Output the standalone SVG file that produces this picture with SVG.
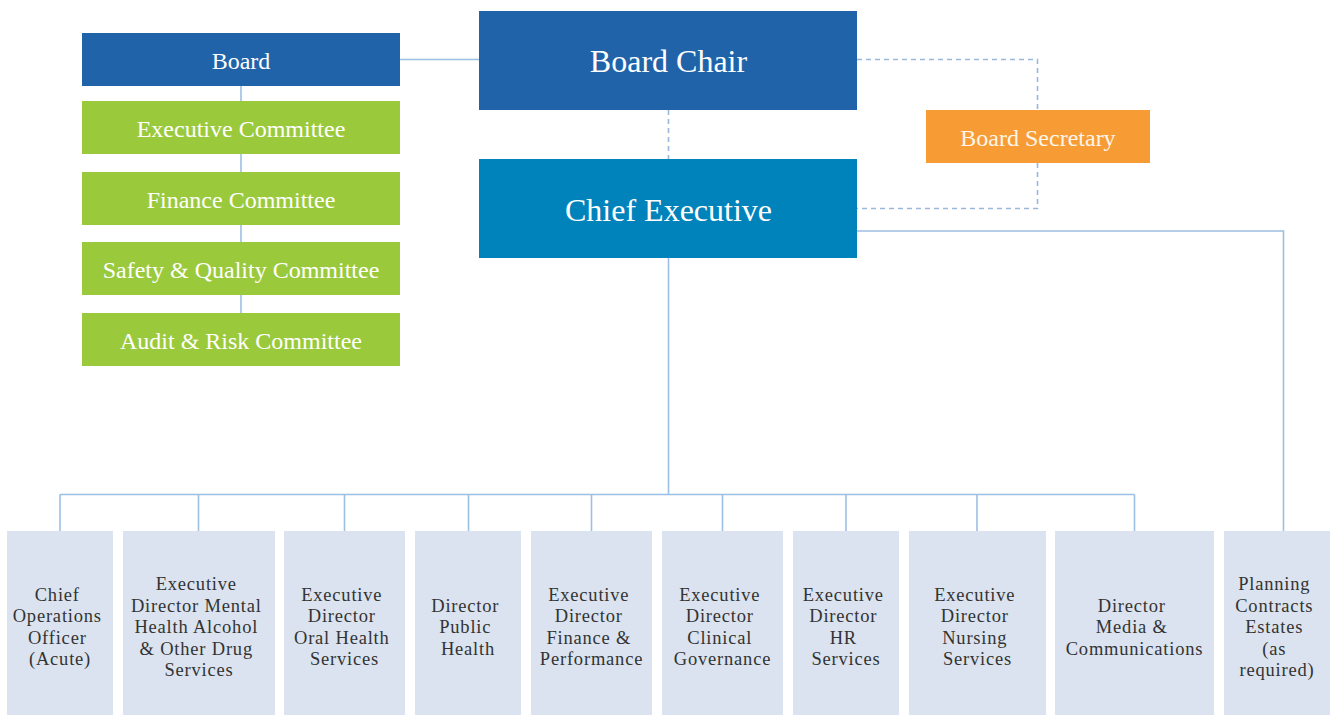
<svg xmlns="http://www.w3.org/2000/svg" width="1335" height="715" viewBox="0 0 1335 715">
  <style>
    .link { fill: none; stroke: #9cbfe4; stroke-width: 1.6; }
    .dash { fill: none; stroke: #9ab8da; stroke-width: 1.6; stroke-dasharray: 5 4; }
    .t { font-family: "Liberation Serif", "Times New Roman", serif; text-anchor: middle; }
    .w { fill: #ffffff; }
    .navy { fill: #2163a9; }
    .teal { fill: #0083bb; }
    .green { fill: #9aca3c; }
    .orange { fill: #f79c34; }
    .pale { fill: #dae3ef; }
    .small { font-size: 24px; }
    .big { font-size: 32px; }
    .dir { font-size: 18.5px; letter-spacing: 0.8px; fill: #333333; }
  </style>

  <!-- connectors -->
  <g id="connectors">
    <line class="link" x1="400" y1="59.5" x2="479" y2="59.5"/>
    <line class="link" x1="241" y1="86" x2="241" y2="313"/>
    <line class="dash" x1="668.5" y1="110" x2="668.5" y2="159"/>
    <polyline class="dash" points="857,59.5 1037.5,59.5 1037.5,110"/>
    <polyline class="dash" points="1037.5,163 1037.5,208.5 857,208.5"/>
    <polyline class="link" points="857,231 1283.5,231 1283.5,531"/>
    <line class="link" x1="668.5" y1="258" x2="668.5" y2="494.5"/>
    <line class="link" x1="60" y1="494.5" x2="1134.5" y2="494.5"/>
    <line class="link" x1="60" y1="494.5" x2="60" y2="531"/>
    <line class="link" x1="198.5" y1="494.5" x2="198.5" y2="531"/>
    <line class="link" x1="344.5" y1="494.5" x2="344.5" y2="531"/>
    <line class="link" x1="468.5" y1="494.5" x2="468.5" y2="531"/>
    <line class="link" x1="591.5" y1="494.5" x2="591.5" y2="531"/>
    <line class="link" x1="722.5" y1="494.5" x2="722.5" y2="531"/>
    <line class="link" x1="846" y1="494.5" x2="846" y2="531"/>
    <line class="link" x1="977" y1="494.5" x2="977" y2="531"/>
    <line class="link" x1="1134.5" y1="494.5" x2="1134.5" y2="531"/>
  </g>

  <!-- board and committees -->
  <g id="board">
    <rect class="navy" x="82" y="33" width="318" height="53"/>
    <text class="t w small" x="241" y="68.5">Board</text>
  </g>
  <g id="executive-committee">
    <rect class="green" x="82" y="101" width="318" height="53"/>
    <text class="t w small" x="241" y="137">Executive Committee</text>
  </g>
  <g id="finance-committee">
    <rect class="green" x="82" y="172" width="318" height="53"/>
    <text class="t w small" x="241" y="207.5">Finance Committee</text>
  </g>
  <g id="safety-quality-committee">
    <rect class="green" x="82" y="242" width="318" height="53"/>
    <text class="t w small" x="241" y="277.5">Safety &amp; Quality Committee</text>
  </g>
  <g id="audit-risk-committee">
    <rect class="green" x="82" y="313" width="318" height="53"/>
    <text class="t w small" x="241" y="348.5">Audit &amp; Risk Committee</text>
  </g>

  <!-- leadership -->
  <g id="board-chair">
    <rect class="navy" x="479" y="11" width="378" height="99"/>
    <text class="t w big" x="668.5" y="72">Board Chair</text>
  </g>
  <g id="chief-executive">
    <rect class="teal" x="479" y="159" width="378" height="99"/>
    <text class="t w big" x="668.5" y="221">Chief Executive</text>
  </g>
  <g id="board-secretary">
    <rect class="orange" x="926" y="110" width="224" height="53"/>
    <text class="t small" x="1038" y="146" fill="#fff6ea">Board Secretary</text>
  </g>

  <!-- directors -->
  <g id="chief-operations-officer">
    <rect class="pale" x="7" y="531" width="106" height="184"/>
    <text class="t dir" x="60">
      <tspan x="60" y="600.5">Chief</tspan>
      <tspan x="60" y="622">Operations</tspan>
      <tspan x="60" y="643.5">Officer</tspan>
      <tspan x="60" y="665">(Acute)</tspan>
    </text>
  </g>
  <g id="ed-mental-health">
    <rect class="pale" x="123" y="531" width="152" height="184"/>
    <text class="t dir" x="199">
      <tspan x="199" y="590">Executive</tspan>
      <tspan x="199" y="611.5">Director Mental</tspan>
      <tspan x="199" y="633">Health Alcohol</tspan>
      <tspan x="199" y="654.5">&amp; Other Drug</tspan>
      <tspan x="199" y="676">Services</tspan>
    </text>
  </g>
  <g id="ed-oral-health">
    <rect class="pale" x="284" y="531" width="121" height="184"/>
    <text class="t dir" x="344.5">
      <tspan x="344.5" y="600.5">Executive</tspan>
      <tspan x="344.5" y="622">Director</tspan>
      <tspan x="344.5" y="643.5">Oral Health</tspan>
      <tspan x="344.5" y="665">Services</tspan>
    </text>
  </g>
  <g id="director-public-health">
    <rect class="pale" x="415" y="531" width="106" height="184"/>
    <text class="t dir" x="468">
      <tspan x="468" y="611.5">Director</tspan>
      <tspan x="468" y="633">Public</tspan>
      <tspan x="468" y="654.5">Health</tspan>
    </text>
  </g>
  <g id="ed-finance-performance">
    <rect class="pale" x="531" y="531" width="121" height="184"/>
    <text class="t dir" x="591.5">
      <tspan x="591.5" y="600.5">Executive</tspan>
      <tspan x="591.5" y="622">Director</tspan>
      <tspan x="591.5" y="643.5">Finance &amp;</tspan>
      <tspan x="591.5" y="665">Performance</tspan>
    </text>
  </g>
  <g id="ed-clinical-governance">
    <rect class="pale" x="662" y="531" width="121" height="184"/>
    <text class="t dir" x="722.5">
      <tspan x="722.5" y="600.5">Executive</tspan>
      <tspan x="722.5" y="622">Director</tspan>
      <tspan x="722.5" y="643.5">Clinical</tspan>
      <tspan x="722.5" y="665">Governance</tspan>
    </text>
  </g>
  <g id="ed-hr-services">
    <rect class="pale" x="793" y="531" width="106" height="184"/>
    <text class="t dir" x="846">
      <tspan x="846" y="600.5">Executive</tspan>
      <tspan x="846" y="622">Director</tspan>
      <tspan x="846" y="643.5">HR</tspan>
      <tspan x="846" y="665">Services</tspan>
    </text>
  </g>
  <g id="ed-nursing-services">
    <rect class="pale" x="909" y="531" width="137" height="184"/>
    <text class="t dir" x="977.5">
      <tspan x="977.5" y="600.5">Executive</tspan>
      <tspan x="977.5" y="622">Director</tspan>
      <tspan x="977.5" y="643.5">Nursing</tspan>
      <tspan x="977.5" y="665">Services</tspan>
    </text>
  </g>
  <g id="director-media-communications">
    <rect class="pale" x="1055" y="531" width="159" height="184"/>
    <text class="t dir" x="1134.5">
      <tspan x="1134.5" y="611.5">Director</tspan>
      <tspan x="1134.5" y="633">Media &amp;</tspan>
      <tspan x="1134.5" y="654.5">Communications</tspan>
    </text>
  </g>
  <g id="planning-contracts-estates">
    <rect class="pale" x="1224" y="531" width="106" height="184"/>
    <text class="t dir" x="1277">
      <tspan x="1277" y="590">Planning</tspan>
      <tspan x="1277" y="611.5">Contracts</tspan>
      <tspan x="1277" y="633">Estates</tspan>
      <tspan x="1277" y="654.5">(as</tspan>
      <tspan x="1277" y="676">required)</tspan>
    </text>
  </g>
</svg>
